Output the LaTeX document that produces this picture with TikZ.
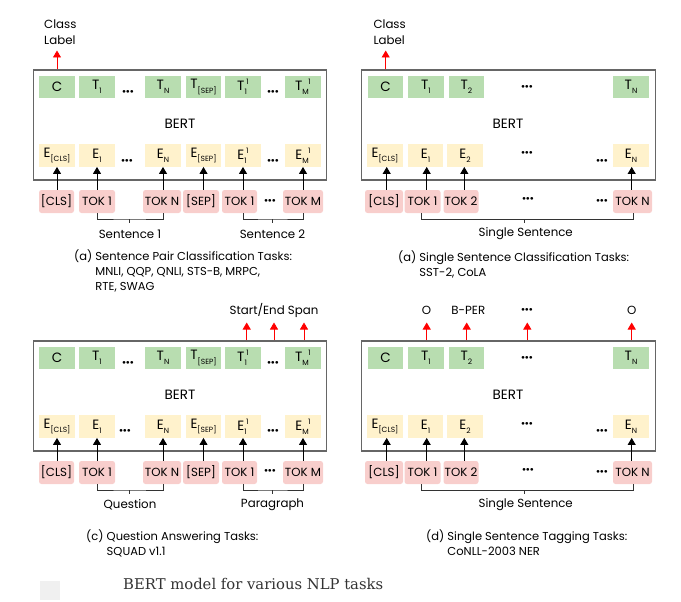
\documentclass[tikz,border=0pt]{standalone}
\usepackage{fontspec}
\setmainfont{Poppins}
\newfontfamily\capfont{DejaVu Serif}
\usetikzlibrary{arrows.meta}
\definecolor{tgreen}{HTML}{B8DDB0}
\definecolor{eyellow}{HTML}{FFF2CC}
\definecolor{tpink}{HTML}{F8CECC}
\definecolor{bordergray}{HTML}{666666}
\definecolor{redarr}{HTML}{FF0000}
\definecolor{sqgray}{HTML}{F0F0F0}
\newcommand\sbs[1]{\raisebox{-0.3em}{\fontsize{7.5}{7.5}\selectfont #1}}
\newcommand\sps[1]{\raisebox{0.45em}{\fontsize{7.5}{7.5}\selectfont #1}}
\newcommand\sbsp[1]{\sbs{#1}\kern-0.5pt\sps{1}}
\newcommand\bdots{\textbullet\kern-0.6pt\textbullet\kern-0.6pt\textbullet}
\begin{document}
\begin{tikzpicture}[x=1pt,y=-1pt,
  tbox/.style={fill=tgreen, minimum width=35.5pt, minimum height=22.5pt, inner sep=0pt, font=\fontsize{13.5}{13.5}\selectfont},
  ebox/.style={fill=eyellow, minimum width=35.5pt, minimum height=22.5pt, inner sep=0pt, font=\fontsize{13.5}{13.5}\selectfont},
  tokbox/.style={fill=tpink, rounded corners=2.5pt, minimum height=23pt, inner sep=0pt, font=\fontsize{11.8}{11.8}\selectfont},
  bertbox/.style={draw=bordergray, line width=1.1pt, minimum width=293.5pt, minimum height=110pt, inner sep=0pt},
  bertlbl/.style={font=\fontsize{13.5}{13.5}\selectfont, inner sep=0pt},
  uparr/.style={draw=black, line width=0.9pt, -{Triangle[width=8pt,length=7pt]}},
  redarrow/.style={draw=redarr, line width=0.9pt, -{Triangle[width=8pt,length=7pt]}},
  brk/.style={draw=black!80, line width=0.8pt},
  lbl/.style={font=\fontsize{11.8}{15.5}\selectfont, inner sep=0pt},
  captxt/.style={font=\fontsize{11.5}{15}\selectfont, inner sep=0pt, align=left, anchor=north west},
  dotsn/.style={font=\fontsize{11}{11}\selectfont, inner sep=0pt}
]
\useasboundingbox (0,0) rectangle (681,602);

% ================= (a) =================
\node[bertbox] (a-box) at (180,125) {};
\node[bertlbl] (a-bert) at (180,124) {BERT};
\node[tbox] (a-c)  at (57,87) {C};
\node[tbox] (a-t1) at (97,87) {T\sbs{1}};
\node[dotsn] (a-td1) at (128,92.5) {\bdots};
\node[tbox] (a-tn) at (163,87) {T\sbs{N}};
\node[tbox] (a-ts) at (203.5,87) {T\sbs{[SEP]}};
\node[tbox] (a-t1p) at (243,87) {T\sbsp{1}};
\node[dotsn] (a-td2) at (273,92.5) {\bdots};
\node[tbox] (a-tm) at (303,87) {T\sbsp{M}};
\node[ebox] (a-ec) at (57,155.5) {E\sbs{[CLS]}};
\node[ebox] (a-e1) at (97,155.5) {E\sbs{1}};
\node[dotsn] (a-ed1) at (127,161.5) {\bdots};
\node[ebox] (a-en) at (163,155.5) {E\sbs{N}};
\node[ebox] (a-es) at (203.5,155.5) {E\sbs{[SEP]}};
\node[ebox] (a-e1p) at (243,155.5) {E\sbsp{1}};
\node[dotsn] (a-ed2) at (273,161.5) {\bdots};
\node[ebox] (a-em) at (303,155.5) {E\sbsp{M}};
\node[tokbox, minimum width=35pt] (a-kc) at (56.5,201.5) {[CLS]};
\node[tokbox, minimum width=36pt] (a-k1) at (97,201.5) {TOK 1};
\node[tokbox, minimum width=38pt] (a-kn) at (162,201.5) {TOK N};
\node[tokbox, minimum width=36pt] (a-ks) at (201,201.5) {[SEP]};
\node[tokbox, minimum width=35pt] (a-k1p) at (239.5,201.5) {TOK 1};
\node[dotsn] (a-kd) at (270,201.5) {\bdots};
\node[tokbox, minimum width=40pt] (a-km) at (303,201.5) {TOK M};
\foreach \e/\k in {ec/kc,e1/k1,en/kn,es/ks,e1p/k1p,em/km}
  \draw[uparr] (a-\e.south |- a-\k.north) -- (a-\e.south);
\coordinate (a-cltip) at (57,50.5);
\draw[redarrow] (a-c.north |- a-box.north) -- (a-cltip);
\node[lbl, align=left, anchor=west] (a-cl) at (44,32) {Class\\Label};
\coordinate (a-b1) at (129,219);
\coordinate (a-b2) at (272,219);
\draw[brk] (a-e1.south |- a-k1.south) |- (a-b1) -| (a-en.south |- a-kn.south);
\draw[brk] (a-b1) -- ++(0,4);
\draw[brk] (a-e1p.south |- a-k1p.south) |- (a-b2) -| (a-em.south |- a-km.south);
\draw[brk] (a-b2) -- ++(0,4);
\node[lbl] (a-s1) at (130,234) {Sentence 1};
\node[lbl] (a-s2) at (272.5,234) {Sentence 2};
\node[captxt] (a-cap) at (74,250) {(a) Sentence Pair Classification Tasks:\\\hphantom{(a) }MNLI, QQP, QNLI, STS-B, MRPC,\\\hphantom{(a) }RTE, SWAG};

% ================= (b) =================
\node[bertbox] (b-box) at (508.4,125) {};
\node[bertlbl] (b-bert) at (508,124) {BERT};
\node[tbox] (b-c)  at (385.5,87) {C};
\node[tbox] (b-t1) at (426,87) {T\sbs{1}};
\node[tbox] (b-t2) at (466.5,87) {T\sbs{2}};
\node[dotsn] (b-td) at (527,88) {\bdots};
\node[tbox] (b-tn) at (631,87) {T\sbs{N}};
\node[ebox] (b-ec) at (385,155.5) {E\sbs{[CLS]}};
\node[ebox] (b-e1) at (425.5,155.5) {E\sbs{1}};
\node[ebox] (b-e2) at (465,155.5) {E\sbs{2}};
\node[dotsn] (b-ed1) at (527,154) {\bdots};
\node[dotsn] (b-ed2) at (602,161.5) {\bdots};
\node[ebox] (b-en) at (631,155.5) {E\sbs{N}};
\node[tokbox, minimum width=38pt] (b-kc) at (384,201.5) {[CLS]};
\node[tokbox, minimum width=36pt] (b-k1) at (422.5,201.5) {TOK 1};
\node[tokbox, minimum width=35pt] (b-k2) at (461,201.5) {TOK 2};
\node[dotsn] (b-kd1) at (528,199.5) {\bdots};
\node[dotsn] (b-kd2) at (602,201.5) {\bdots};
\node[tokbox, minimum width=39pt] (b-kn) at (632.5,201.5) {TOK N};
\coordinate (b-x1) at (386.7,0);
\coordinate (b-x2) at (426.7,0);
\coordinate (b-x3) at (464.3,0);
\coordinate (b-x4) at (631.7,0);
\draw[uparr] (b-x1 |- b-kc.north) -- (b-x1 |- b-ec.south);
\draw[uparr] (b-x2 |- b-k1.north) -- (b-x2 |- b-e1.south);
\draw[uparr] (b-x3 |- b-k2.north) -- (b-x3 |- b-e2.south);
\draw[uparr] (b-x4 |- b-kn.north) -- (b-x4 |- b-en.south);
\coordinate (b-cltip) at (385.7,50.5);
\draw[redarrow] (b-cltip |- b-box.north) -- (b-cltip);
\node[lbl, align=left, anchor=west] (b-cl) at (373.3,32) {Class\\Label};
\coordinate (b-b1) at (524.3,219);
\coordinate (b-bl) at (421.7,219);
\coordinate (b-br) at (633.3,219);
\draw[brk] (b-bl |- b-k1.south) -- (b-bl) -- (b-br) -- (b-br |- b-kn.south);
\draw[brk] (b-b1) -- ++(0,4);
\node[lbl] (b-s) at (525.7,234) {Single Sentence};
\node[captxt] (b-cap) at (398,251) {(a) Single Sentence Classification Tasks:\\\hphantom{(a) }SST-2, CoLA};

% ================= (c) =================
\node[bertbox] (c-box) at (180,396) {};
\node[bertlbl] (c-bert) at (180,394.5) {BERT};
\node[tbox] (c-c)  at (57,358) {C};
\node[tbox] (c-t1) at (97,358) {T\sbs{1}};
\node[dotsn] (c-td1) at (128,363.5) {\bdots};
\node[tbox] (c-tn) at (163,358) {T\sbs{N}};
\node[tbox] (c-ts) at (203.5,358) {T\sbs{[SEP]}};
\node[tbox] (c-t1p) at (243,358) {T\sbsp{1}};
\node[dotsn] (c-td2) at (273,363.5) {\bdots};
\node[tbox] (c-tm) at (303,358) {T\sbsp{M}};
\node[ebox] (c-ec) at (57,426.5) {E\sbs{[CLS]}};
\node[ebox] (c-e1) at (97,426.5) {E\sbs{1}};
\node[dotsn] (c-ed1) at (125,431.5) {\bdots};
\node[ebox] (c-en) at (163,426.5) {E\sbs{N}};
\node[ebox] (c-es) at (203.5,426.5) {E\sbs{[SEP]}};
\node[ebox] (c-e1p) at (243,426.5) {E\sbsp{1}};
\node[dotsn] (c-ed2) at (273,431.5) {\bdots};
\node[ebox] (c-em) at (303,426.5) {E\sbsp{M}};
\node[tokbox, minimum width=35pt] (c-kc) at (56.5,472.5) {[CLS]};
\node[tokbox, minimum width=36pt] (c-k1) at (97,472.5) {TOK 1};
\node[tokbox, minimum width=38pt] (c-kn) at (162,472.5) {TOK N};
\node[tokbox, minimum width=36pt] (c-ks) at (201,472.5) {[SEP]};
\node[tokbox, minimum width=35pt] (c-k1p) at (239.5,472.5) {TOK 1};
\node[dotsn] (c-kd) at (270,472) {\bdots};
\node[tokbox, minimum width=40pt] (c-km) at (303,472.5) {TOK M};
\foreach \e/\k in {ec/kc,e1/k1,en/kn,es/ks,e1p/k1p,em/km}
  \draw[uparr] (c-\e.south |- c-\k.north) -- (c-\e.south);
\node[lbl] (c-span) at (274,310.5) {Start/End Span};
\coordinate (c-tip) at (0,322.5);
\coordinate (c-x1) at (246.7,0);
\coordinate (c-x2) at (274,0);
\coordinate (c-x3) at (304,0);
\draw[redarrow] (c-x1 |- c-box.north) -- (c-x1 |- c-tip);
\draw[redarrow] (c-x2 |- c-box.north) -- (c-x2 |- c-tip);
\draw[redarrow] (c-x3 |- c-box.north) -- (c-x3 |- c-tip);
\coordinate (c-b1) at (129,490);
\coordinate (c-b2) at (272,490);
\draw[brk] (c-e1.south |- c-k1.south) |- (c-b1) -| (c-en.south |- c-kn.south);
\draw[brk] (c-b1) -- ++(0,4);
\draw[brk] (c-e1p.south |- c-k1p.south) |- (c-b2) -| (c-em.south |- c-km.south);
\draw[brk] (c-b2) -- ++(0,4);
\node[lbl] (c-q) at (130,504.5) {Question};
\node[lbl] (c-p) at (272.5,504.5) {Paragraph};
\node[captxt] (c-cap) at (86,530) {(c) Question Answering Tasks:\\\hphantom{(c) }SQUAD v1.1};

% ================= (d) =================
\node[bertbox] (d-box) at (508.4,396) {};
\node[bertlbl] (d-bert) at (508,394.5) {BERT};
\node[tbox] (d-c)  at (385.5,358) {C};
\node[tbox] (d-t1) at (426,358) {T\sbs{1}};
\node[tbox] (d-t2) at (466.5,358) {T\sbs{2}};
\node[dotsn] (d-td) at (527,358.5) {\bdots};
\node[tbox] (d-tn) at (631,358) {T\sbs{N}};
\node[ebox] (d-ec) at (385,426.5) {E\sbs{[CLS]}};
\node[ebox] (d-e1) at (425.5,426.5) {E\sbs{1}};
\node[ebox] (d-e2) at (465,426.5) {E\sbs{2}};
\node[dotsn] (d-ed1) at (527,425) {\bdots};
\node[dotsn] (d-ed2) at (602,431.5) {\bdots};
\node[ebox] (d-en) at (631,426.5) {E\sbs{N}};
\node[tokbox, minimum width=38pt] (d-kc) at (384,472.5) {[CLS]};
\node[tokbox, minimum width=36pt] (d-k1) at (422.5,472.5) {TOK 1};
\node[tokbox, minimum width=35pt] (d-k2) at (461,472.5) {TOK 2};
\node[dotsn] (d-kd1) at (528,470.5) {\bdots};
\node[dotsn] (d-kd2) at (602,472.5) {\bdots};
\node[tokbox, minimum width=39pt] (d-kn) at (632.5,472.5) {TOK N};
\draw[uparr] (b-x1 |- d-kc.north) -- (b-x1 |- d-ec.south);
\draw[uparr] (b-x2 |- d-k1.north) -- (b-x2 |- d-e1.south);
\draw[uparr] (b-x3 |- d-k2.north) -- (b-x3 |- d-e2.south);
\draw[uparr] (b-x4 |- d-kn.north) -- (b-x4 |- d-en.south);
\node[lbl] (d-o1) at (426.5,310.5) {O};
\node[lbl] (d-bper) at (468.3,310.5) {B-PER};
\node[dotsn] (d-od) at (527,310.5) {\bdots};
\node[lbl] (d-o2) at (631.7,310.5) {O};
\coordinate (d-tip) at (0,322.5);
\coordinate (d-x1) at (426.7,0);
\coordinate (d-x2) at (466.7,0);
\coordinate (d-x3) at (527.3,0);
\coordinate (d-x4) at (631.7,0);
\draw[redarrow] (d-x1 |- d-box.north) -- (d-x1 |- d-tip);
\draw[redarrow] (d-x2 |- d-box.north) -- (d-x2 |- d-tip);
\draw[redarrow] (d-x3 |- d-box.north) -- (d-x3 |- d-tip);
\draw[redarrow] (d-x4 |- d-box.north) -- (d-x4 |- d-tip);
\coordinate (d-b1) at (524.3,490);
\coordinate (d-bl) at (421.7,490);
\coordinate (d-br) at (633.3,490);
\draw[brk] (d-bl |- d-k1.south) -- (d-bl) -- (d-br) -- (d-br |- d-kn.south);
\draw[brk] (d-b1) -- ++(0,4);
\node[lbl] (d-s) at (525.7,504.5) {Single Sentence};
\node[captxt] (d-cap) at (426,530) {(d) Single Sentence Tagging Tasks:\\\hphantom{(d) }CoNLL-2003 NER};

% ================= caption =================
\node[fill=sqgray, minimum width=20pt, minimum height=19pt, inner sep=0pt] (sq) at (50,590.5) {};
\node[font=\capfont\fontsize{14.8}{14.8}\selectfont, inner sep=0pt, anchor=west, text=black!80] (title) at (123,584) {BERT model for various NLP tasks};
\end{tikzpicture}
\end{document}
